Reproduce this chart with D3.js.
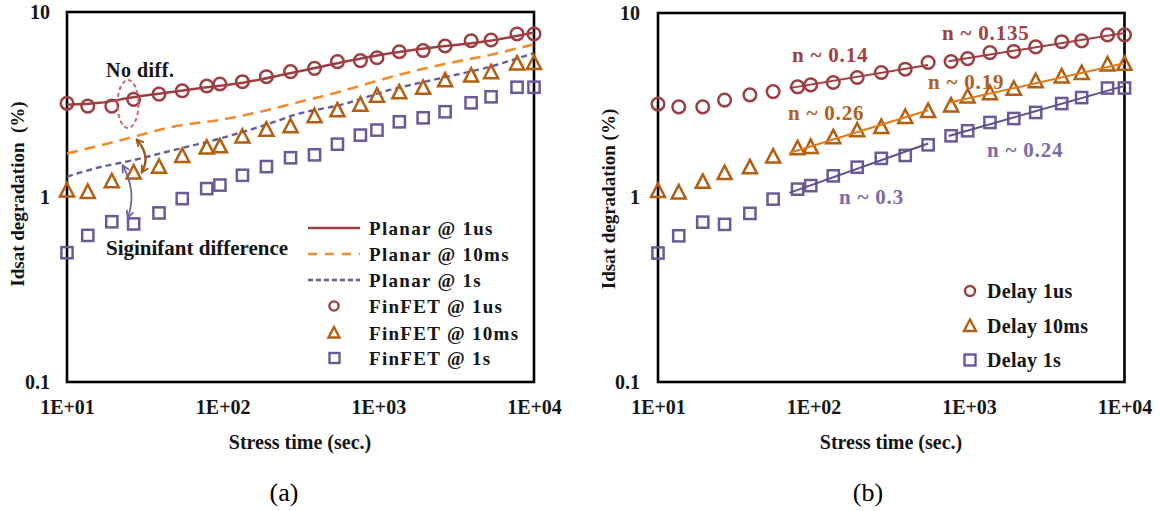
<!DOCTYPE html>
<html><head><meta charset="utf-8">
<script src="https://cdn.jsdelivr.net/npm/d3@7"></script>
<style>
body{margin:0;background:#fff;}
svg text{font-family:"Liberation Serif","Times New Roman",serif;}
</style></head><body>
<svg id="chart" width="1161" height="511"></svg>
<script>
// Stress times (s) at which FinFET degradation was measured
const stressTime = [10, 13.6, 19.4, 26.8, 39, 55, 79, 96, 134, 191, 273, 389, 546, 767, 980, 1364, 1941, 2685, 3945, 5300, 7780, 10000];
// FinFET Idsat degradation (%) for each recovery delay
const finfet1us  = [3.21, 3.10, 3.10, 3.37, 3.60, 3.75, 3.98, 4.08, 4.20, 4.47, 4.76, 4.96, 5.39, 5.46, 5.66, 6.10, 6.19, 6.55, 6.99, 7.06, 7.61, 7.61];
const finfet10ms = [1.08, 1.06, 1.21, 1.35, 1.45, 1.66, 1.84, 1.87, 2.11, 2.30, 2.40, 2.72, 2.93, 3.14, 3.51, 3.66, 3.87, 4.25, 4.51, 4.70, 5.24, 5.28];
const finfet1s   = [0.50, 0.62, 0.735, 0.715, 0.82, 0.98, 1.11, 1.16, 1.31, 1.46, 1.63, 1.69, 1.93, 2.16, 2.30, 2.55, 2.68, 2.89, 3.23, 3.48, 3.92, 3.92];

// Planar reference curves
const planarTime  = [10, 16.3, 26.5, 40, 79, 135, 270, 567, 1188, 2489, 5212, 10000];
const planar1us   = [3.15, 3.23, 3.46, 3.63, 3.92, 4.15, 4.66, 5.32, 5.98, 6.50, 6.99, 7.75];
const planarTime2 = [10, 16.3, 26.5, 48, 96, 174, 314, 567, 1188, 2489, 5212, 10000];
const planar10ms  = [1.72, 1.90, 2.11, 2.40, 2.61, 2.89, 3.27, 3.71, 4.44, 5.17, 5.86, 6.70];
const planar1s    = [1.29, 1.45, 1.58, 1.79, 2.07, 2.40, 2.83, 3.14, 3.79, 4.38, 5.06, 6.00];

// Power-law exponents of the two fit segments per delay
const fitRanges = [[70, 546], [740, 10000]];
const exp1us   = [0.14, 0.135];
const exp10ms  = [0.26, 0.19];
const exp1s    = [0.3, 0.24];

const xTickValues = [10, 100, 1000, 10000];
const xTickLabels = ["1E+01", "1E+02", "1E+03", "1E+04"];
const yTickValues = [0.1, 1, 10];
const yTickLabels = ["0.1", "1", "10"];

const legendA = ["Planar @ 1us", "Planar @ 10ms", "Planar @ 1s", "FinFET @ 1us", "FinFET @ 10ms", "FinFET @ 1s"];
const legendB = ["Delay 1us", "Delay 10ms", "Delay 1s"];

const C = {
  red: "#9d3f42", tri: "#b35f12", sq: "#6b5a96",
  orange: "#f28a2e", purple: "#6a5aa0",
  fitRed: "#9d3f42", fitOrange: "#e07a1c", fitPurple: "#5e4f8c",
  text: "#151515"
};

const svg = d3.select("#chart");

const defs = svg.append("defs");
function arrowMarker(id, color) {
  defs.append("marker").attr("id", id)
    .attr("viewBox", "0 0 10 10").attr("refX", 8).attr("refY", 5)
    .attr("markerWidth", 9).attr("markerHeight", 9)
    .attr("markerUnits", "userSpaceOnUse")
    .attr("orient", "auto-start-reverse")
    .append("path").attr("d", "M1,1 L9,5 L1,9").attr("fill", "none")
    .attr("stroke", color).attr("stroke-width", 2);
}
arrowMarker("arBrown", "#9a5a1a");
arrowMarker("arPurple", "#7262a4");

function trianglePath(cx, cy) {
  return `M${cx},${cy - 7.8} L${cx + 7},${cy + 5.6} L${cx - 7},${cy + 5.6} Z`;
}

function panel(box, opts) {
  const g = svg.append("g");
  const x = d3.scaleLog().domain([10, 10000]).range([box.left, box.right]);
  const y = d3.scaleLog().domain([0.1, 10]).range([box.bottom, box.top]);

  const xa = g.append("g").attr("transform", `translate(0,${box.bottom})`)
    .call(d3.axisBottom(x).tickValues(xTickValues)
      .tickFormat((d, i) => xTickLabels[i]).tickSize(0).tickPadding(18));
  xa.select(".domain").remove();
  xa.selectAll("text").attr("font-size", 20).attr("font-weight", "bold")
    .attr("fill", C.text).style("font-family", '"Liberation Serif",serif');

  const ya = g.append("g").attr("transform", `translate(${box.left},0)`)
    .call(d3.axisLeft(y).tickValues(yTickValues)
      .tickFormat((d, i) => yTickLabels[i]).tickSize(0).tickPadding(opts.yPad));
  ya.select(".domain").remove();
  ya.selectAll("text").attr("font-size", 20).attr("font-weight", "bold")
    .attr("fill", C.text).style("font-family", '"Liberation Serif",serif');

  g.append("rect").attr("x", box.left).attr("y", box.top)
    .attr("width", box.right - box.left).attr("height", box.bottom - box.top)
    .attr("fill", "none").attr("stroke", "#000").attr("stroke-width", 2.6);

  g.append("text").attr("x", opts.xTitle[0]).attr("y", opts.xTitle[1])
    .attr("text-anchor", "middle").attr("dy", "0.35em")
    .attr("font-size", 20).attr("font-weight", "bold").attr("fill", C.text)
    .text("Stress time (sec.)");

  g.append("text")
    .attr("transform", `translate(${opts.yTitle[0]},${opts.yTitle[1]}) rotate(-90)`)
    .attr("text-anchor", "middle").attr("dy", "0.35em")
    .attr("font-size", 19).attr("font-weight", "bold").attr("fill", C.text)
    .text(opts.yTitleText);

  return {g, x, y};
}

function drawMarkers(p) {
  const {g, x, y} = p;
  g.append("g").selectAll("circle").data(stressTime).join("circle")
    .attr("cx", d => x(d)).attr("cy", (d, i) => y(finfet1us[i])).attr("r", 6.3)
    .attr("fill", "none").attr("stroke", C.red).attr("stroke-width", 2.5);
  g.append("g").selectAll("path").data(stressTime).join("path")
    .attr("d", (d, i) => trianglePath(x(d), y(finfet10ms[i])))
    .attr("fill", "none").attr("stroke", C.tri).attr("stroke-width", 2.5)
    .attr("stroke-linejoin", "miter");
  g.append("g").selectAll("rect").data(stressTime).join("rect")
    .attr("x", d => x(d) - 5.6).attr("y", (d, i) => y(finfet1s[i]) - 5.6)
    .attr("width", 11.2).attr("height", 11.2)
    .attr("fill", "none").attr("stroke", C.sq).attr("stroke-width", 2.5);
}

// ---------- (a) Planar vs FinFET ----------
const A = panel({left: 67, right: 534, top: 12, bottom: 382},
  {yPad: 17, xTitle: [300, 442], yTitle: [17, 194], yTitleText: "Idsat degradation\u00a0 (%)"});

const lineA = (times) => d3.line()
  .x((d, i) => A.x(times[i])).y(d => A.y(d)).curve(d3.curveMonotoneX);

A.g.append("path").attr("d", lineA(planarTime2)(planar10ms))
  .attr("fill", "none").attr("stroke", C.orange).attr("stroke-width", 2.6)
  .attr("stroke-dasharray", "11 7");
A.g.append("path").attr("d", lineA(planarTime2)(planar1s))
  .attr("fill", "none").attr("stroke", C.purple).attr("stroke-width", 2.4)
  .attr("stroke-dasharray", "6 4");
drawMarkers(A);
A.g.append("path").attr("d", lineA(planarTime)(planar1us))
  .attr("fill", "none").attr("stroke", C.red).attr("stroke-width", 2.5);

// annotations
A.g.append("ellipse").attr("cx", 128).attr("cy", 104).attr("rx", 10.5).attr("ry", 24)
  .attr("fill", "none").attr("stroke", "#cf6470").attr("stroke-width", 2)
  .attr("stroke-dasharray", "4 3");
A.g.append("text").attr("x", 106).attr("y", 70).attr("dy", "0.35em")
  .attr("font-size", 20).attr("font-weight", "bold").attr("letter-spacing", 0.5)
  .attr("fill", C.text).text("No diff.");
A.g.append("path").attr("d", "M137,140 Q151,156 142,172")
  .attr("fill", "none").attr("stroke", "#9a5a1a").attr("stroke-width", 2.4)
  .attr("marker-start", "url(#arBrown)").attr("marker-end", "url(#arBrown)");
A.g.append("path").attr("d", "M123,166 Q137,192 128,217")
  .attr("fill", "none").attr("stroke", "#7262a4").attr("stroke-width", 1.8)
  .attr("marker-start", "url(#arPurple)").attr("marker-end", "url(#arPurple)");
A.g.append("text").attr("x", 106).attr("y", 248).attr("dy", "0.35em")
  .attr("font-size", 21).attr("font-weight", "bold").attr("fill", C.text)
  .text("Siginifant difference");

// legend (a)
const legA = A.g.append("g");
const rowsA = [228, 254, 280, 306, 333, 358];
legA.append("line").attr("x1", 308).attr("x2", 360).attr("y1", rowsA[0]).attr("y2", rowsA[0])
  .attr("stroke", C.red).attr("stroke-width", 2.5);
legA.append("line").attr("x1", 308).attr("x2", 360).attr("y1", rowsA[1]).attr("y2", rowsA[1])
  .attr("stroke", C.orange).attr("stroke-width", 2.6).attr("stroke-dasharray", "9 8");
legA.append("line").attr("x1", 308).attr("x2", 360).attr("y1", rowsA[2]).attr("y2", rowsA[2])
  .attr("stroke", C.purple).attr("stroke-width", 2.4).attr("stroke-dasharray", "5 3");
legA.append("circle").attr("cx", 334).attr("cy", rowsA[3]).attr("r", 4.6)
  .attr("fill", "none").attr("stroke", C.red).attr("stroke-width", 2.4);
legA.append("path").attr("d", `M334,${rowsA[4] - 6} L339.5,${rowsA[4] + 4.5} L328.5,${rowsA[4] + 4.5} Z`)
  .attr("fill", "none").attr("stroke", C.tri).attr("stroke-width", 2.4);
legA.append("rect").attr("x", 329.5).attr("y", rowsA[5] - 5).attr("width", 10).attr("height", 10)
  .attr("fill", "none").attr("stroke", C.sq).attr("stroke-width", 2.4);
legA.selectAll("text").data(legendA).join("text")
  .attr("x", 369).attr("y", (d, i) => rowsA[i]).attr("dy", "0.35em")
  .attr("font-size", 19).attr("font-weight", "bold").attr("letter-spacing", 1.3)
  .attr("fill", C.text).text(d => d);

// ---------- (b) Power-law fits ----------
const B = panel({left: 658, right: 1124.5, top: 13, bottom: 382},
  {yPad: 18, xTitle: [891, 442], yTitle: [608, 199], yTitleText: "Idsat degradation (%)"});

// fit segments: slope fixed by n, intercept from the points inside each range
function fitSegment(vals, n, range, color) {
  const idx = stressTime.map((t, i) => i).filter(i => stressTime[i] >= range[0] && stressTime[i] <= range[1]);
  const logA = d3.mean(idx, i => Math.log10(vals[i]) - n * Math.log10(stressTime[i]));
  const f = t => Math.pow(10, logA) * Math.pow(t, n);
  B.g.append("line")
    .attr("x1", B.x(range[0])).attr("y1", B.y(f(range[0])))
    .attr("x2", B.x(range[1])).attr("y2", B.y(f(range[1])))
    .attr("stroke", color).attr("stroke-width", 2);
}
drawMarkers(B);
fitRanges.forEach((r, k) => {
  fitSegment(finfet1us, exp1us[k], r, C.fitRed);
  fitSegment(finfet10ms, exp10ms[k], r, C.fitOrange);
  fitSegment(finfet1s, exp1s[k], r, C.fitPurple);
});

const nLabels = [
  {t: "n ~ " + exp1us[0], x: 792, y: 55, c: "#a0403f"},
  {t: "n ~ " + exp1us[1], x: 942, y: 33, c: "#a0403f"},
  {t: "n ~ " + exp10ms[0], x: 788, y: 113, c: "#b0601a"},
  {t: "n ~ " + exp10ms[1], x: 928, y: 82, c: "#b0601a"},
  {t: "n ~ " + exp1s[0], x: 839, y: 197, c: "#7a6aa8"},
  {t: "n ~ " + exp1s[1], x: 987, y: 150, c: "#7a6aa8"}
];
B.g.selectAll("text.nlab").data(nLabels).join("text").attr("class", "nlab")
  .attr("x", d => d.x).attr("y", d => d.y).attr("dy", "0.35em")
  .attr("font-size", 21).attr("font-weight", "bold").attr("letter-spacing", 0.8)
  .attr("fill", d => d.c).text(d => d.t);

// legend (b)
const legB = B.g.append("g");
const rowsB = [291, 326, 360];
legB.append("circle").attr("cx", 970).attr("cy", rowsB[0]).attr("r", 5)
  .attr("fill", "none").attr("stroke", C.red).attr("stroke-width", 2.4);
legB.append("path").attr("d", `M970,${rowsB[1] - 6.5} L976,${rowsB[1] + 5} L964,${rowsB[1] + 5} Z`)
  .attr("fill", "none").attr("stroke", C.tri).attr("stroke-width", 2.4);
legB.append("rect").attr("x", 964.5).attr("y", rowsB[2] - 5.5).attr("width", 11).attr("height", 11)
  .attr("fill", "none").attr("stroke", C.sq).attr("stroke-width", 2.4);
legB.selectAll("text").data(legendB).join("text")
  .attr("x", 987).attr("y", (d, i) => rowsB[i]).attr("dy", "0.35em")
  .attr("font-size", 20).attr("font-weight", "bold").attr("letter-spacing", 0.3)
  .attr("fill", C.text).text(d => d);

// captions
svg.append("text").attr("x", 284).attr("y", 492).attr("dy", "0.35em").attr("text-anchor", "middle")
  .attr("font-size", 26).attr("fill", "#000").text("(a)");
svg.append("text").attr("x", 868).attr("y", 492).attr("dy", "0.35em").attr("text-anchor", "middle")
  .attr("font-size", 26).attr("fill", "#000").text("(b)");
</script>
</body></html>
